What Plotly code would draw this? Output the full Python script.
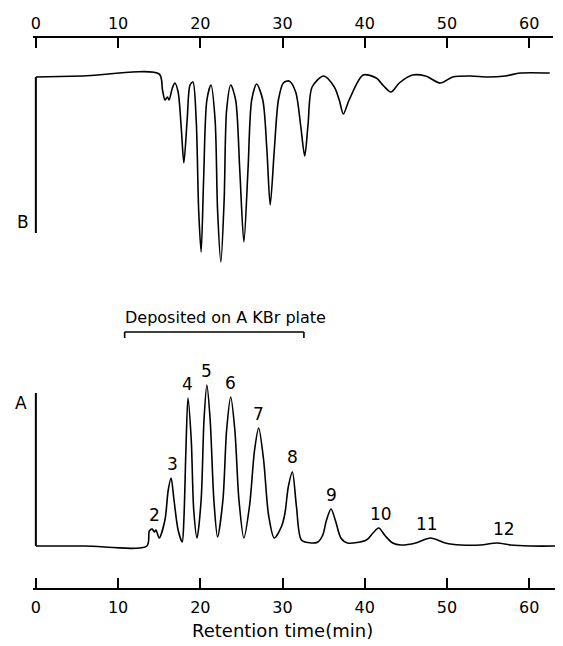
import plotly.graph_objects as go

# ---------------- data ----------------
# Trace A (lower chromatogram): retention time (min) and detector response (a.u.)
a_time = [0.0, 6.0, 13.5, 13.8, 14.15, 14.4, 14.6, 15.0,
          15.7, 16.1, 16.45, 16.8, 17.3, 17.8,
          18.0, 18.25, 18.5, 18.9, 19.2, 19.6,
          20.1, 20.45, 20.8, 21.2, 21.65, 22.1,
          22.75, 23.2, 23.7, 24.2, 24.7, 25.3,
          26.0, 26.6, 27.1, 27.7, 28.3, 29.0,
          29.9, 30.3, 30.7, 31.2, 31.7, 32.3, 33.5,
          34.3, 34.9, 35.35, 35.9, 36.45, 37.1, 37.9,
          40.2, 41.0, 41.7, 42.5, 43.4, 44.4,
          46.2, 48.0, 49.8, 51.7,
          54.1, 56.1, 57.7, 60.1, 64.0]
a_signal = [0, 0, 0, 15, 17, 14, 16, 8,
            26, 56, 68, 46, 16, 4,
            26, 96, 148, 106, 36, 8,
            46, 126, 161, 126, 46, 9,
            46, 116, 149, 116, 46, 8,
            41, 96, 118, 86, 31, 8,
            20, 33, 59, 74, 39, 6, 3,
            4, 11, 26, 37, 25, 8, 3,
            6, 13, 18, 10, 3, 1,
            3, 8, 3, 1,
            1, 3, 1, 0, 0]
a_start_mark = 153  # height of the pen mark at t = 0

# Trace B (upper chromatogram, inverted detector)
b_time = [0.0, 5.7, 15.0, 15.4, 15.7, 16.0, 16.2, 16.6, 16.9, 17.3, 17.7,
          18.0, 18.4, 18.75, 19.1, 19.5, 19.8, 20.1, 20.4, 20.8, 21.3,
          21.8, 22.1, 22.5, 22.9, 23.2, 23.7, 24.3, 24.8, 25.3, 25.8,
          26.25, 26.85, 27.6, 28.1, 28.5, 29.0, 29.5, 30.1, 30.8, 31.6,
          32.2, 32.7, 33.1, 33.6, 35.0, 36.3, 36.9, 37.4, 38.1, 39.8,
          41.4, 42.3, 43.2, 44.2, 45.8, 47.4, 49.2, 50.7, 52.9, 54.9,
          57.1, 58.9, 62.5]
b_signal = [193, 194, 196, 180, 170, 173, 170, 182, 187, 178, 140,
            107, 150, 185, 188, 150, 60, 18, 90, 170, 185,
            150, 60, 8, 70, 160, 185, 170, 100, 28, 100,
            170, 186, 170, 120, 65, 120, 170, 187, 189, 178,
            145, 114, 145, 183, 194, 183, 170, 156, 170, 195,
            192, 184, 178, 187, 195, 194, 187, 193, 194, 193,
            194, 197, 197]
b_start_mark = 37  # lower end of the pen mark at t = 0

# Peak labels of trace A
peak_names = ["2", "3", "4", "5", "6", "7", "8", "9", "10", "11", "12"]
peak_times = [14.4, 16.6, 18.5, 20.8, 23.7, 27.1, 31.2, 35.9, 42.0, 47.6, 56.9]
peak_heights = [17, 68, 148, 161, 149, 118, 75, 37, 18, 8, 3]

tick_vals = [0, 10, 20, 30, 40, 50, 60]
tick_text = ["0", "10", "20", "30", "40", "50", "60"]

deposit_start, deposit_end = 10.8, 32.6
deposit_label = "Deposited on A KBr plate"
x_title = "Retention time(min)"

# ---------------- figure ----------------
FONT = "DejaVu Sans"
OX, OY = 8, 8          # page body margin of the html page
W, H = 563 - OX, 646 - OY


def fx(xpx):
    return (xpx - OX) / W


def fy(ypx):
    return 1 - (ypx - OY) / H


line = dict(color="black", width=1.6)

fig = go.Figure()
fig.add_trace(go.Scatter(x=a_time, y=a_signal, mode="lines",
                         line=dict(shape="spline", smoothing=0.8, **line),
                         xaxis="x", yaxis="y", hoverinfo="skip"))
fig.add_trace(go.Scatter(x=[0, 0], y=[a_start_mark, 0], mode="lines",
                         line=dict(color="black", width=2),
                         xaxis="x", yaxis="y", hoverinfo="skip"))
fig.add_trace(go.Scatter(x=b_time, y=b_signal, mode="lines",
                         line=dict(shape="spline", smoothing=0.8, **line),
                         xaxis="x2", yaxis="y2", hoverinfo="skip"))
fig.add_trace(go.Scatter(x=[0, 0], y=[b_start_mark, b_signal[0]], mode="lines",
                         line=dict(color="black", width=2),
                         xaxis="x2", yaxis="y2", hoverinfo="skip"))

# peak number labels
for name, t, h in zip(peak_names, peak_times, peak_heights):
    fig.add_annotation(x=t, y=h, xref="x", yref="y", text=name, showarrow=False,
                       xanchor="center", yanchor="bottom", yshift=2,
                       font=dict(family=FONT, size=17, color="black"))

# deposition bracket
dep_y = 214
fig.add_shape(type="line", xref="x", yref="y", x0=deposit_start, x1=deposit_end,
              y0=dep_y, y1=dep_y, line=dict(color="black", width=1.6))
for xx in (deposit_start, deposit_end):
    fig.add_shape(type="line", xref="x", yref="y", x0=xx, x1=xx,
                  y0=dep_y, y1=dep_y - 6, line=dict(color="black", width=1.6))
fig.add_annotation(x=(deposit_start + deposit_end) / 2 + 1.4, y=dep_y, xref="x", yref="y",
                   text=deposit_label, showarrow=False, xanchor="center",
                   yanchor="bottom", yshift=3,
                   font=dict(family=FONT, size=16, color="black"))

# panel letters
fig.add_annotation(x=fx(18), y=fy(403), xref="paper", yref="paper", text="A",
                   showarrow=False, xanchor="center", yanchor="middle",
                   font=dict(family=FONT, size=17, color="black"))
fig.add_annotation(x=fx(20), y=fy(222), xref="paper", yref="paper", text="B",
                   showarrow=False, xanchor="center", yanchor="middle",
                   font=dict(family=FONT, size=17, color="black"))
# x title
fig.add_annotation(x=30, y=fy(630), xref="x", yref="paper", text=x_title,
                   showarrow=False, xanchor="center", yanchor="middle",
                   font=dict(family=FONT, size=18, color="black"))

px_per_min = (529 - 33) / 60.0
pad = 0.3
axis_common = dict(showline=True, linecolor="black", linewidth=2, ticks="inside",
                   ticklen=10, tickwidth=2, tickcolor="black", showgrid=False,
                   zeroline=False, tickvals=tick_vals, ticktext=tick_text,
                   tickfont=dict(family=FONT, size=16, color="black"),
                   fixedrange=True)

bottom_end = (562 - 33) / px_per_min
top_end = (553 - 33) / px_per_min
left_px = 33 - pad * px_per_min
fig.update_layout(
    width=W, height=H, margin=dict(l=0, r=0, t=0, b=0),
    paper_bgcolor="white", plot_bgcolor="rgba(0,0,0,0)", showlegend=False,
    xaxis=dict(domain=[fx(left_px), min(1.0, fx(562))], range=[-pad, bottom_end],
               anchor="free", position=fy(589), side="bottom",
               ticklabelstandoff=4, **axis_common),
    xaxis2=dict(domain=[fx(left_px), fx(553)], range=[-pad, top_end],
                anchor="free", position=fy(37), side="top",
                ticklabelstandoff=1, **axis_common),
    yaxis=dict(domain=[fy(560), fy(310)], range=[-14, 236], visible=False,
               anchor="x", fixedrange=True),
    yaxis2=dict(domain=[fy(270), fy(60)], range=[0, 210], visible=False,
                anchor="x2", fixedrange=True),
)

fig.write_html("out.html")
